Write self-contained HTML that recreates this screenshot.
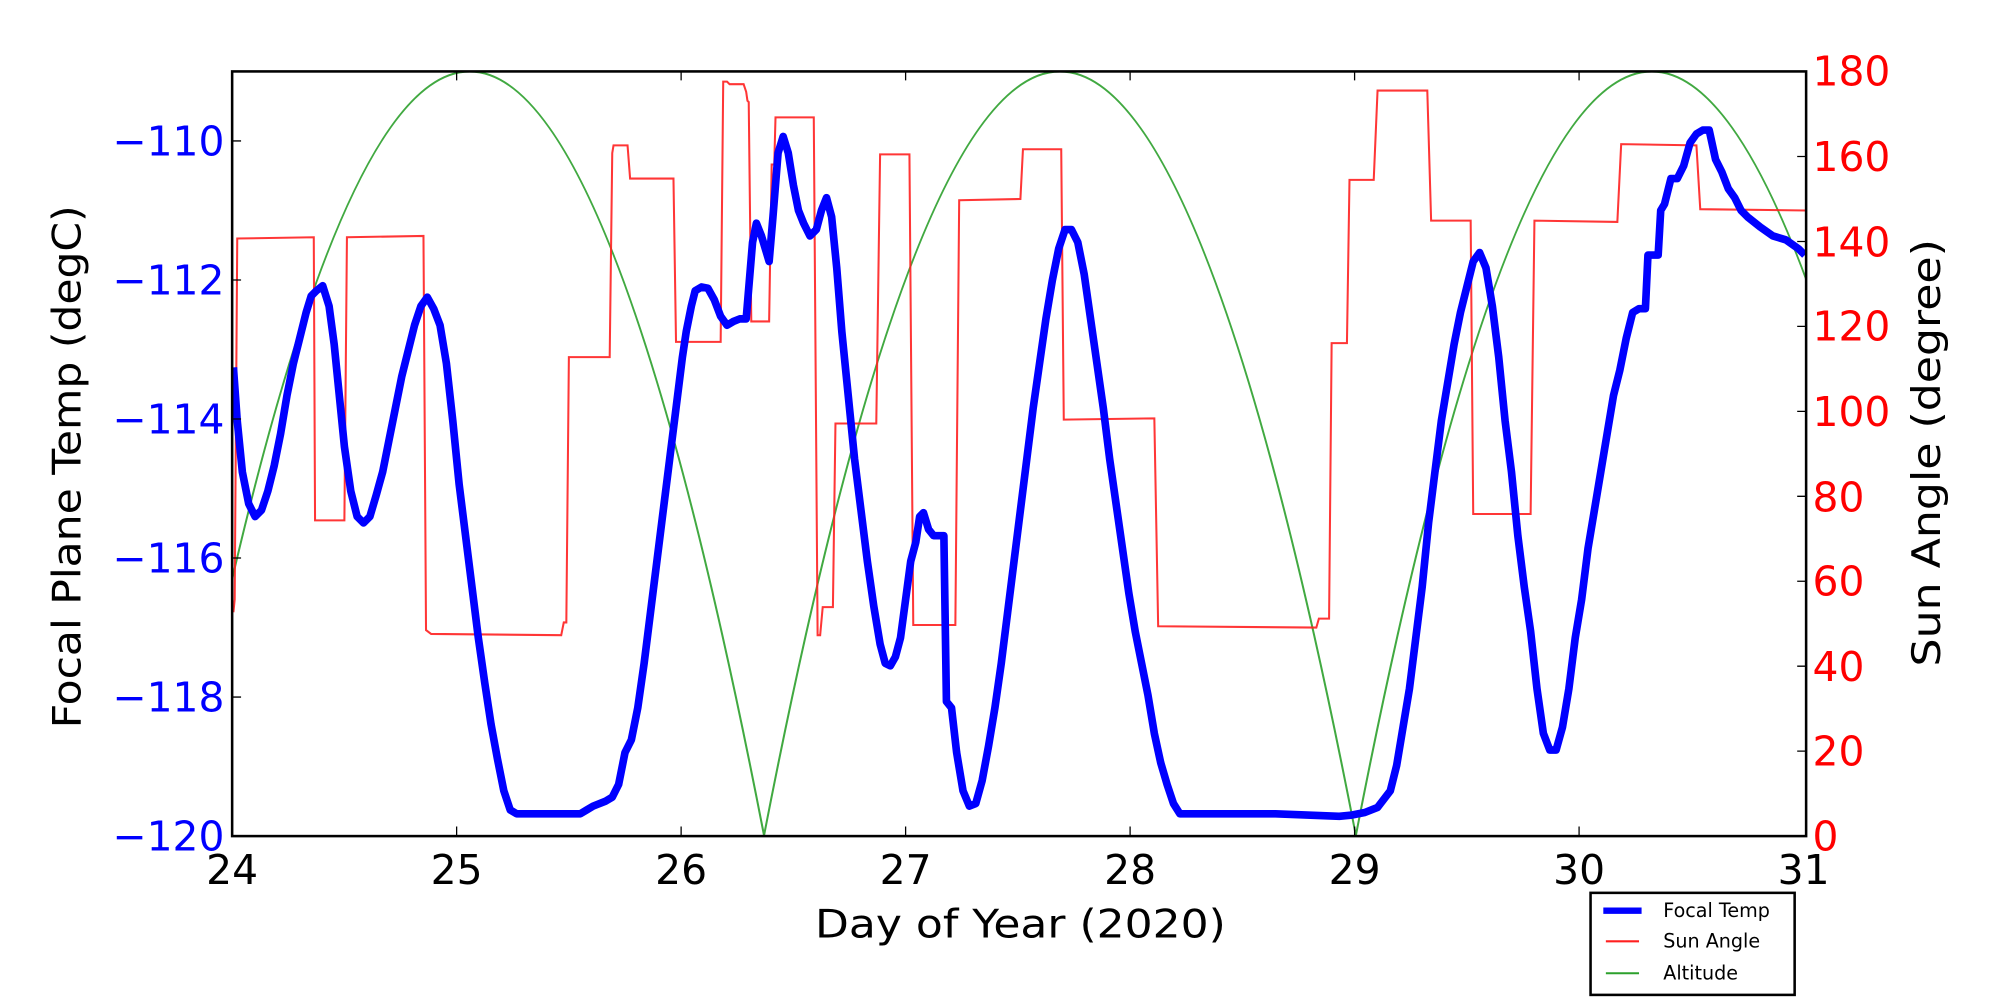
<!DOCTYPE html>
<html><head><meta charset="utf-8"><style>html,body{margin:0;padding:0;background:#fff}svg{display:block}</style></head>
<body>
<svg width="2000" height="1000" viewBox="0 0 1568 784" xmlns="http://www.w3.org/2000/svg" font-family="DejaVu Sans, Liberation Sans, sans-serif">
<defs><clipPath id="c"><rect x="182" y="56" width="1234" height="600"/></clipPath></defs>
<rect width="1568" height="784" fill="#fff"/>
<g clip-path="url(#c)" fill="none">
<path d="M140,655 Q367,-543 599,655 Q831,-543 1063,655 Q1295,-543 1527,655" stroke="#2ca02c" stroke-width="1.6" opacity="0.9"/>
<path d="M183,480 L184,470 L186,187 L246,186 L247,408 L270,408 L272,186 L332,185 L334,494 L338,497 L440,498 L442,488 L444,488 L446,280 L478,280 L480,120 L481,114 L492,114 L494,140 L528,140 L530,268 L565,268 L567,64 L570,64 L572,66 L583,66 L585,72 L586,79 L587,80 L589,252 L603,252 L605,129 L607,129 L608,92 L638,92 L641,498 L643,498 L645,476 L653,476 L655,332 L687,332 L690,121 L713,121 L716,490 L749,490 L752,157 L800,156 L802,117 L832,117 L834,329 L905,328 L908,491 L1032,492 L1034,485 L1042,485 L1044,269 L1056,269 L1058,141 L1077,141 L1080,71 L1119,71 L1122,173 L1153,173 L1155,403 L1200,403 L1203,173 L1268,174 L1271,113 L1330,114 L1333,164 L1416,165" stroke="#ff2020" stroke-width="1.6" opacity="0.9"/>
<path d="M183,288 L186,330 L190,370 L195,395 L200,405 L205,400 L210,385 L215,365 L220,340 L225,310 L230,285 L235,265 L240,245 L244,232 L248,228 L253,224 L258,240 L262,270 L266,310 L270,350 L275,385 L280,405 L285,410 L290,405 L295,388 L300,370 L305,345 L310,320 L315,295 L320,275 L325,255 L330,240 L335,233 L340,242 L345,255 L350,285 L355,330 L360,380 L365,420 L370,460 L375,500 L380,535 L385,568 L390,595 L395,620 L400,635 L405,638 L455,638 L460,635 L465,632 L475,628 L480,625 L485,615 L490,590 L495,580 L500,555 L505,520 L510,480 L515,440 L520,400 L525,360 L530,320 L535,280 L538,260 L542,240 L545,228 L550,225 L555,226 L560,235 L565,248 L570,255 L575,252 L580,250 L585,250 L590,190 L593,175 L597,185 L600,195 L603,205 L606,170 L610,120 L614,107 L618,120 L622,145 L626,165 L630,175 L635,185 L640,180 L644,165 L648,155 L652,170 L656,210 L660,260 L665,310 L670,360 L675,400 L680,440 L685,475 L690,505 L694,520 L698,522 L702,515 L706,500 L710,470 L714,440 L718,425 L721,405 L724,402 L728,415 L732,420 L740,420 L742,550 L746,555 L750,590 L755,620 L760,632 L765,630 L770,612 L775,585 L780,555 L785,520 L790,480 L795,440 L800,400 L805,360 L810,320 L815,285 L820,250 L825,220 L830,195 L835,180 L840,180 L845,190 L850,215 L855,250 L860,285 L865,320 L870,360 L875,395 L880,430 L885,465 L890,495 L895,520 L900,545 L905,575 L910,598 L915,615 L920,630 L925,638 L1000,638 L1050,640 L1060,639 L1070,637 L1080,633 L1090,620 L1095,600 L1100,570 L1105,540 L1110,500 L1115,460 L1120,410 L1125,370 L1130,330 L1135,300 L1140,270 L1145,245 L1150,225 L1155,205 L1160,198 L1165,210 L1170,240 L1175,280 L1180,330 L1185,370 L1190,420 L1195,460 L1200,495 L1205,540 L1210,575 L1215,588 L1220,588 L1225,570 L1230,540 L1235,500 L1240,470 L1245,430 L1250,400 L1255,370 L1260,340 L1265,310 L1270,290 L1275,265 L1280,245 L1285,242 L1290,242 L1292,200 L1295,200 L1300,200 L1302,165 L1305,160 L1310,140 L1315,140 L1320,130 L1325,112 L1330,105 L1335,102 L1340,102 L1345,125 L1350,135 L1355,148 L1360,155 L1365,165 L1370,170 L1380,178 L1390,185 L1400,188 L1410,195 L1415,200" stroke="#0000ff" stroke-width="6" stroke-linejoin="round"/>
</g>
<rect x="182" y="56" width="1234" height="599.5" fill="none" stroke="#000" stroke-width="2"/>
<g stroke="#000" stroke-width="1">
<path d="M358,655v-7M358,56v7M534,655v-7M534,56v7M710,655v-7M710,56v7M886,655v-7M886,56v7M1062,655v-7M1062,56v7M1238,655v-7M1238,56v7"/>
<path d="M182,110.5h7M182,219.5h7M182,328.5h7M182,437.5h7M182,546.5h7"/>
<path d="M1416,122.7h-7M1416,189.3h-7M1416,255.9h-7M1416,322.5h-7M1416,389.1h-7M1416,455.7h-7M1416,522.3h-7M1416,588.9h-7"/>
</g>
<g font-size="32" fill="#000" text-anchor="middle">
<text x="182" y="693">24</text><text x="358" y="693">25</text><text x="534" y="693">26</text><text x="710" y="693">27</text><text x="886" y="693">28</text><text x="1062" y="693">29</text><text x="1238" y="693">30</text><text x="1414" y="693">31</text>
</g>
<g font-size="32" fill="#0000ff" text-anchor="end">
<text x="176" y="122">−110</text><text x="176" y="231">−112</text><text x="176" y="340">−114</text><text x="176" y="449">−116</text><text x="176" y="558">−118</text><text x="176" y="667">−120</text>
</g>
<g font-size="32" fill="#ff0000" text-anchor="start">
<text x="1421" y="67">180</text><text x="1421" y="134">160</text><text x="1421" y="201">140</text><text x="1421" y="267">120</text><text x="1421" y="334">100</text><text x="1421" y="401">80</text><text x="1421" y="467">60</text><text x="1421" y="534">40</text><text x="1421" y="600">20</text><text x="1421" y="667">0</text>
</g>
<text x="800" y="735" font-size="31" text-anchor="middle" textLength="322" lengthAdjust="spacingAndGlyphs">Day of Year (2020)</text>
<text transform="translate(63,366) rotate(-90)" font-size="31" text-anchor="middle" textLength="410" lengthAdjust="spacingAndGlyphs">Focal Plane Temp (degC)</text>
<text transform="translate(1521,355) rotate(-90)" font-size="31" text-anchor="middle" textLength="335" lengthAdjust="spacingAndGlyphs">Sun Angle (degree)</text>
<rect x="1247" y="700" width="160" height="80" fill="#fff" stroke="#000" stroke-width="2"/>
<line x1="1257" y1="714" x2="1287" y2="714" stroke="#0000ff" stroke-width="5"/>
<line x1="1259" y1="738" x2="1285" y2="738" stroke="#ff2020" stroke-width="1.6"/>
<line x1="1259" y1="763" x2="1285" y2="763" stroke="#2ca02c" stroke-width="1.6"/>
<g font-size="15" fill="#000"><text x="1304" y="719">Focal Temp</text><text x="1304" y="743">Sun Angle</text><text x="1304" y="768">Altitude</text></g>
</svg>
</body></html>
